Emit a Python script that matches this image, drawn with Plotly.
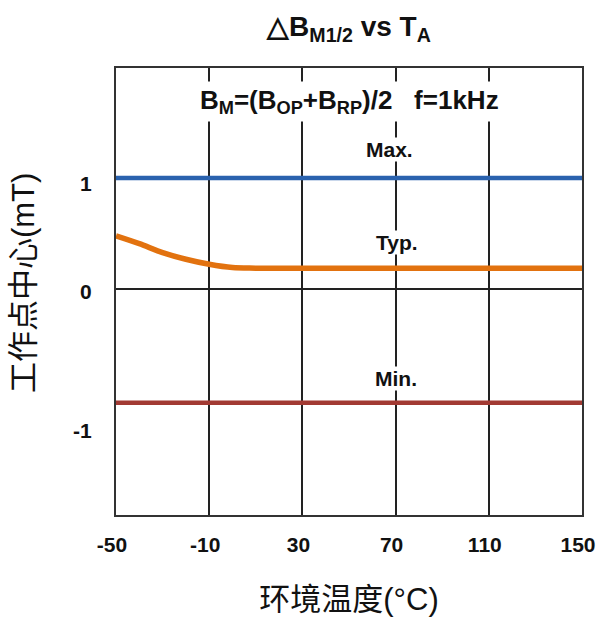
import plotly.graph_objects as go

# ---- data ----
temps_line = [-50, 150]
max_vals = [1.0, 1.0]
min_vals = [-1.02, -1.02]
typ_temps = [-50, -40, -30, -20, -10, 0, 10, 150]
typ_vals = [0.48, 0.41, 0.33, 0.27, 0.225, 0.195, 0.19, 0.19]

x_ticks = [-50, -10, 30, 70, 110, 150]
x_tick_text = ["-50", "-10", "30", "70", "110", "150"]
y_tick_pos = [0.95, -0.02, -1.27]
y_tick_text = ["1", "0", "-1"]

BOLD = "Liberation Sans, Arial, sans-serif"
MIXED = "Liberation Sans, Noto Sans CJK SC, sans-serif"

fig = go.Figure()
fig.add_trace(go.Scatter(x=temps_line, y=max_vals, mode="lines",
                         line=dict(color="#2A62AE", width=4.5), name="Max."))
fig.add_trace(go.Scatter(x=typ_temps, y=typ_vals, mode="lines",
                         line=dict(color="#E2720F", width=5.5, shape="spline", smoothing=0.8),
                         name="Typ."))
fig.add_trace(go.Scatter(x=temps_line, y=min_vals, mode="lines",
                         line=dict(color="#A23A33", width=4.5), name="Min."))

ann_font = dict(family=BOLD, size=21, color="#111111")
common = dict(showarrow=False, bgcolor="white", xanchor="center", yanchor="middle")
annotations = [
    dict(x=0.5, y=0.924, xref="paper", yref="paper",
         text="<b>B<sub>M</sub>=(B<sub>OP</sub>+B<sub>RP</sub>)/2   f=1kHz</b>",
         borderpad=3, font=dict(family=BOLD, size=26, color="#111111"), **common),
    dict(x=67.5, y=0.818, xref="x", yref="paper", text="<b>Max.</b>",
         borderpad=0, font=ann_font, **common),
    dict(x=70.5, y=0.61, xref="x", yref="paper", text="<b>Typ.</b>",
         borderpad=0, font=ann_font, **common),
    dict(x=70, y=0.305, xref="x", yref="paper", text="<b>Min.</b>",
         borderpad=0, font=ann_font, **common),
]

fig.update_layout(
    width=596, height=617,
    margin=dict(l=116, r=14, t=68, b=102, autoexpand=False),
    paper_bgcolor="white", plot_bgcolor="white",
    showlegend=False,
    title=dict(text="<b>△B<sub>M1/2</sub> vs T<sub>A</sub></b>",
               x=0.5, xref="paper", y=1 - 26 / 617, yref="container",
               xanchor="center", yanchor="middle",
               font=dict(family=BOLD, size=28, color="#111111")),
    annotations=annotations,
    xaxis=dict(range=[-50, 150], tickvals=x_ticks,
               ticktext=["<b>%s</b>" % t for t in x_tick_text],
               showgrid=True, gridcolor="#222222", gridwidth=1.5,
               zeroline=False, showline=True, linecolor="#333333", linewidth=2,
               mirror=True, ticks="", ticklabelstandoff=10, ticklabelshift=-4,
               ticklabeloverflow="allow", automargin=False,
               tickfont=dict(family=BOLD, size=21, color="#111111"),
               title=dict(text="环境温度(°C)", standoff=41,
                          font=dict(family=MIXED, size=31, color="#111111"))),
    yaxis=dict(range=[-2.03, 1.99], tickvals=y_tick_pos,
               ticktext=["<b>%s</b>" % t for t in y_tick_text],
               showgrid=False, zeroline=True, zerolinecolor="#222222", zerolinewidth=1.5,
               showline=True, linecolor="#333333", linewidth=2, mirror=True,
               ticks="", ticklabelstandoff=18, automargin=False,
               tickfont=dict(family=BOLD, size=21, color="#111111"),
               title=dict(text="&nbsp;&nbsp;工作点中心(mT)", standoff=29,
                          font=dict(family=MIXED, size=31, color="#111111"))),
)

fig.write_html("out.html")
